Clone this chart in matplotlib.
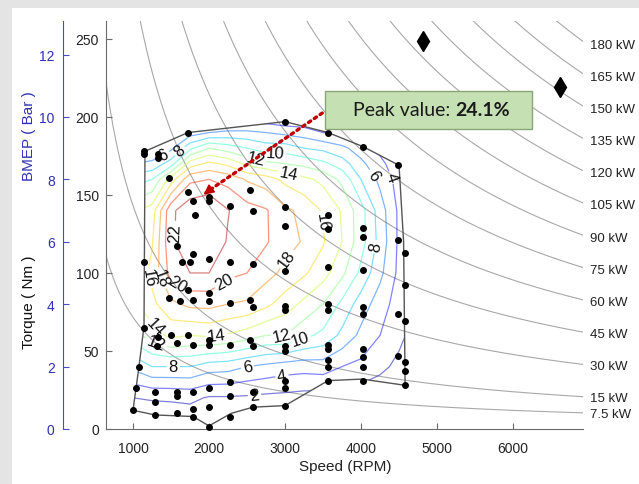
import numpy as np
import matplotlib
matplotlib.use("Agg")
import matplotlib.pyplot as plt
from matplotlib.patches import Polygon, Rectangle

plt.rcParams['font.family'] = ['Liberation Sans', 'DejaVu Sans']

# efficiency map (BTE %) on a speed x torque grid
speed = [1000, 1250, 1500, 1750, 2000, 2250, 2500, 2750, 3000, 3250,
         3500, 3750, 4000, 4250, 4500, 4750]
torque = [0, 20, 40, 60, 80, 100, 120, 140, 160, 170, 180, 190, 200]
# one list per speed column, values for each torque row
eff_cols = [
    [0, 2.0, 6.5, 11.0, 13.5, 14.5, 14.5, 13.5, 9.0, 6.0, 4.0, 3.0, 2.0],
    [0, 2.2, 8.0, 13.0, 15.5, 16.5, 15.8, 15.0, 10.0, 6.5, 4.0, 3.0, 2.0],
    [0, 2.3, 8.0, 14.5, 17.5, 20.8, 21.7, 21.5, 15.0, 9.0, 5.5, 3.5, 2.0],
    [0, 2.5, 8.0, 14.0, 18.5, 22.0, 23.2, 23.5, 19.5, 15.0, 9.5, 5.0, 2.0],
    [0, 1.8, 7.0, 14.3, 18.6, 22.0, 23.6, 24.1, 20.0, 16.5, 12.0, 6.0, 2.0],
    [0, 1.8, 6.8, 13.8, 18.0, 20.5, 21.8, 22.1, 19.3, 15.5, 11.0, 6.5, 2.0],
    [0, 1.7, 6.0, 13.0, 17.7, 20.0, 21.0, 20.8, 17.8, 13.5, 10.0, 6.5, 2.0],
    [0, 1.5, 5.5, 12.0, 16.5, 18.7, 20.2, 20.2, 17.0, 12.5, 9.0, 6.0, 2.5],
    [0, 1.4, 5.0, 12.0, 15.0, 17.5, 18.8, 18.4, 15.5, 12.0, 9.0, 5.5, 2.0],
    [0, 1.2, 4.8, 10.5, 13.5, 16.3, 17.8, 17.5, 14.5, 11.5, 8.0, 5.0, 2.0],
    [0, 1.1, 5.0, 9.5, 12.0, 14.8, 16.2, 15.8, 13.5, 10.5, 7.5, 4.0, 1.5],
    [0, 1.0, 4.0, 7.5, 9.5, 12.5, 14.0, 13.8, 11.5, 9.0, 6.5, 3.5, 1.5],
    [0, 0.8, 3.5, 5.5, 7.0, 9.5, 10.8, 10.8, 8.0, 6.5, 5.0, 3.0, 1.0],
    [0, 0.6, 2.5, 4.0, 5.0, 6.5, 7.3, 7.0, 5.5, 4.5, 3.5, 2.5, 1.0],
    [0, 0.5, 1.5, 2.5, 3.0, 3.5, 3.6, 3.6, 3.2, 2.8, 2.3, 1.5, 0.5],
    [0, 0.3, 0.8, 1.0, 1.2, 1.5, 1.5, 1.5, 1.5, 1.2, 1.0, 0.5, 0.2],
]
levels = [2, 4, 6, 8, 10, 12, 14, 16, 18, 20, 22]

# where the contour labels sit
label_pos = [(1420, 174), (1620, 178), (2600, 171), (2870, 178), (3050, 164),
             (1640, 126), (2210, 94), (2970, 111), (3520, 133), (4180, 117),
             (4200, 164), (4340, 160), (1190, 97), (1300, 95), (1560, 90),
             (1320, 67), (1320, 57), (2100, 60), (2960, 60), (3200, 57),
             (1530, 40), (2510, 38), (2960, 34), (2600, 21)]

# operating envelope
env_rpm = [1158, 1724, 3000, 3566, 4026, 4500, 4560, 4580, 4013, 3566,
           3000, 2579, 2290, 2000, 1790, 1290, 1000, 1079, 1145]
env_nm = [178, 190, 197, 190, 181, 169, 120, 28, 32, 31,
          15, 14, 10, 2, 8, 9, 12, 40, 66]

# measured test points
pt_rpm = [1150, 1150, 1330, 1330, 1720, 3000, 3570, 4020, 4490,
          1480, 1720, 1790, 2000, 2000, 1815, 2280, 2580, 2540,
          1580, 1790, 1645, 1750, 2000, 2280, 2580, 1150,
          3000, 3000, 3000, 3570, 3570, 3570, 4020, 4020, 4020, 4490, 4580, 4580,
          1720, 2000, 2000, 1480, 1620, 1790, 2280, 2540, 2580,
          3000, 3000, 3570, 3570, 4020, 4020, 4490, 4580,
          1150, 1500, 1720, 1330, 1320, 1580, 1790, 2000, 2000, 2280, 2540, 2580,
          3000, 3000, 3570, 3570, 3570, 3570, 4020, 4020, 4020, 4490, 4580, 4580,
          1080, 1040, 1290, 1290, 1580, 1580, 1790, 2000, 2280, 2280, 2580,
          3000, 3000, 3570, 4020, 4580,
          1000, 1290, 1580, 1790, 1790, 2000, 2000, 2280, 2580, 3000]
pt_nm = [178, 176, 176, 174, 190, 197, 190, 181, 169,
         161, 152, 146, 149, 146, 137, 143, 140, 153,
         117, 112, 107, 107, 109, 107, 106, 107,
         142, 130, 101, 137, 128, 104, 129, 123, 102, 121, 113, 92,
         89, 87, 82, 84, 82, 83, 81, 83, 78,
         79, 76, 80, 76, 78, 74, 74, 69,
         65, 60, 60, 59, 53, 55, 54, 57, 54, 54, 57, 53,
         53, 50, 54, 51, 44, 40, 51, 46, 40, 47, 43, 37,
         40, 26, 24, 17, 24, 21, 24, 26, 30, 21, 24,
         31, 26, 31, 31, 28,
         12, 9, 10, 13, 8, 14, 1, 8, 14, 15]

diamond_rpm = [4820, 6620]
diamond_nm = [249, 219]

power_kw = [7.5, 15, 30, 45, 60, 75, 90, 105, 120, 135, 150, 165, 180]

peak_rpm, peak_nm, peak_val = 1900, 149, 24.1

fig = plt.figure(figsize=(6.39, 4.85), dpi=100)
fig.patch.set_facecolor('#e4e4e4')
fig.patches.append(Rectangle((12 / 639, 0), 1, 1 - 9 / 485, transform=fig.transFigure,
                             facecolor='white', edgecolor='none', zorder=-10))

ax = fig.add_axes([106 / 639, 55 / 485, 477 / 639, 408 / 485])
ax.set_facecolor('none')
xmin, xmax = 645, 6920
ax.set_xlim(xmin, xmax)
ax.set_ylim(0, 261.5)

# constant power lines
rpm_line = np.linspace(xmin, xmax, 400)
for p in power_kw:
    ax.plot(rpm_line, p * 60000 / (2 * np.pi * rpm_line), color='#a8a8a8', lw=0.8, zorder=1)
    ax.text(7010, p * 60000 / (2 * np.pi * 6950) - 1, '%g kW' % p, fontsize=9.5,
            ha='left', va='center', color='#222222', clip_on=False)

env = Polygon(list(zip(env_rpm, env_nm)), closed=True, facecolor='none',
              edgecolor='#555555', lw=1.0, zorder=3)
ax.add_patch(env)

eff = np.array(eff_cols).T
cs = ax.contour(speed, torque, eff, levels=levels, cmap='jet', vmin=1, vmax=23,
                linewidths=0.9, alpha=0.5, zorder=2)
cs.set_clip_path(env)
lbls = ax.clabel(cs, levels, inline=True, fontsize=12, fmt='%d', colors='k',
                 manual=label_pos, inline_spacing=2)
for t in lbls:
    t.set_alpha(1)
    t.set_color('#111111')

ax.scatter(pt_rpm, pt_nm, s=16, color='black', zorder=5, clip_on=False)
ax.plot(diamond_rpm, diamond_nm, 'kd', ms=10, zorder=5)

# peak annotation
ax.plot([3490, peak_rpm + 60], [202.5, peak_nm + 2.5], color='#c00000', lw=2.4,
        linestyle=(0, (0.8, 1.3)), dash_capstyle='round', zorder=6)
ax.annotate('', xy=(peak_rpm, peak_nm), xytext=(peak_rpm + 130, peak_nm + 5),
            arrowprops=dict(arrowstyle='-|>,head_length=0.6,head_width=0.3',
                            color='#c00000', lw=1.2), zorder=6)
ax.add_patch(Rectangle((3527, 192.3), 2724, 24.4, facecolor='#c5e0b3',
                       edgecolor='#8aa57a', lw=1.0, zorder=7, clip_on=False))
ax.text(5238, 204.5, 'Peak value: ', fontsize=14, family=['Lato', 'DejaVu Sans'],
        ha='right', va='center', color='#1a1a1a', zorder=8)
ax.text(5238, 204.5, '%.1f%%' % peak_val, fontsize=14, family=['Lato', 'DejaVu Sans'],
        fontweight='bold', ha='left', va='center', color='#1a1a1a', zorder=8)

for s in ['top', 'right']:
    ax.spines[s].set_visible(False)
for s in ['left', 'bottom']:
    ax.spines[s].set_color('#6a6a6a')
ax.set_xticks([1000, 2000, 3000, 4000, 5000, 6000])
ax.set_yticks([0, 50, 100, 150, 200, 250])
ax.tick_params(direction='in', length=4, colors='#6a6a6a', labelcolor='#222222',
               labelsize=10)
ax.tick_params(axis='x', pad=9)
ax.tick_params(axis='y', pad=5)

# BMEP axis (bar) = torque / 20
ax2 = fig.add_axes([63 / 639, 55 / 485, 0.001, 408 / 485])
ax2.set_ylim(0, 261.5 / 20)
ax2.set_xticks([])
ax2.set_yticks([0, 2, 4, 6, 8, 10, 12])
for s in ['top', 'right', 'bottom']:
    ax2.spines[s].set_visible(False)
ax2.spines['left'].set_color('#4b4bc8')
ax2.set_facecolor('none')
ax2.tick_params(direction='in', length=4, colors='#4b4bc8', labelcolor='#3030b0',
                labelsize=10, pad=6)

fig.text(0.045, 0.377, 'Torque ( Nm )', rotation=90, fontsize=11, ha='center',
         va='center', color='#111111')
fig.text(0.045, 0.72, 'BMEP ( Bar )', rotation=90, fontsize=11, ha='center',
         va='center', color='#3030b0')
fig.text(0.54, 0.037, 'Speed (RPM)', fontsize=11, ha='center', va='center',
         color='#222222')

fig.savefig('out.png', dpi=100)
